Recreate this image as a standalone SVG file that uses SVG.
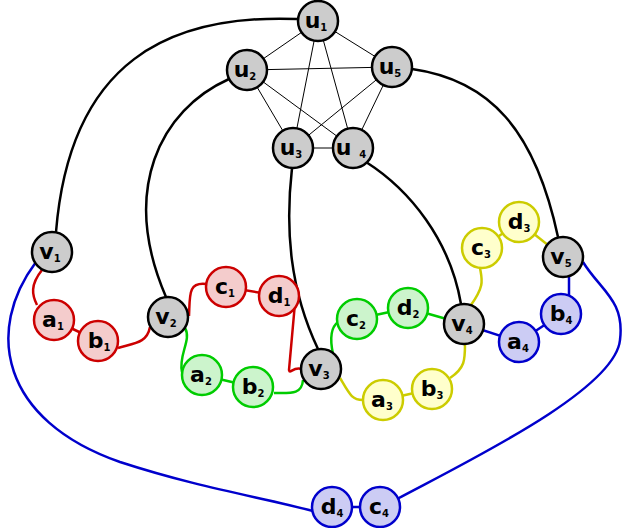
<svg xmlns="http://www.w3.org/2000/svg" width="623" height="528" viewBox="0 0 623 528">
<style>
.n circle{stroke-width:2.5}
.g circle{fill:#cccccc;stroke:#000}
.r circle{fill:#f4cccc;stroke:#cc0000}
.gr circle{fill:#ccf4cc;stroke:#00cc00}
.y circle{fill:#ffffcc;stroke:#cccc00}
.b circle{fill:#ccccf4;stroke:#0000cc}
text{font-family:"DejaVu Sans",sans-serif;font-weight:bold;font-size:22px;text-anchor:middle;fill:#000}
tspan{font-size:10px}
.k{fill:none;stroke:#000;stroke-width:2.5}
.t{fill:none;stroke:#000;stroke-width:1}
.cr{fill:none;stroke:#cc0000;stroke-width:2.5}
.cg{fill:none;stroke:#00cc00;stroke-width:2.5}
.cy{fill:none;stroke:#cccc00;stroke-width:2.5}
.cb{fill:none;stroke:#0000cc;stroke-width:2.5}
</style>
<g id="connectors">
<line class="t" x1="318" y1="21" x2="247" y2="70"/>
<line class="t" x1="318" y1="21" x2="392" y2="67"/>
<line class="t" x1="318" y1="21" x2="293" y2="148"/>
<line class="t" x1="318" y1="21" x2="353" y2="148"/>
<line class="t" x1="247" y1="70" x2="392" y2="67"/>
<line class="t" x1="247" y1="70" x2="293" y2="148"/>
<line class="t" x1="247" y1="70" x2="353" y2="148"/>
<line class="t" x1="392" y1="67" x2="293" y2="148"/>
<line class="t" x1="392" y1="67" x2="353" y2="148"/>
<line class="t" x1="293" y1="148" x2="353" y2="148"/>
<path class="k" d="M297,19 C170,14 70,60 56,232"/>
<path class="k" d="M229,79 C160,110 120,190 166,297"/>
<path class="k" d="M292,168 C285,230 290,290 318,349"/>
<path class="k" d="M366,162 C410,190 450,240 461,304"/>
<path class="k" d="M412,69 C490,80 535,130 558,237"/>
<path class="cr" d="M42,270 C30,285 32,295 37,305"/>
<line class="cr" x1="54" y1="320" x2="98" y2="341"/>
<path class="cr" d="M118,348 C135,343 147,343 150,327"/>
<path class="cr" d="M189,316 C190,295 188,282 206,284"/>
<line class="cr" x1="226" y1="287" x2="279" y2="296"/>
<path class="cr" d="M295,303 L289,370 C290,375 293,366 302,369"/>
<path class="cg" d="M185,328 C192,340 178,355 182,372"/>
<line class="cg" x1="202" y1="375" x2="253" y2="387"/>
<path class="cg" d="M274,393 C290,393 302,395 303,380"/>
<path class="cg" d="M333,354 C330,340 330,328 338,322"/>
<line class="cg" x1="357" y1="319" x2="408" y2="308"/>
<line class="cg" x1="408" y1="308" x2="464" y2="324"/>
<path class="cy" d="M340,378 C350,395 352,400 363,400"/>
<line class="cy" x1="383" y1="400" x2="432" y2="389"/>
<path class="cy" d="M450,378 C465,368 465,360 465,344"/>
<path class="cy" d="M471,305 C485,285 482,280 480,268"/>
<line class="cy" x1="482" y1="248" x2="519" y2="222"/>
<line class="cy" x1="519" y1="222" x2="563" y2="257"/>
<line class="cb" x1="464" y1="324" x2="519" y2="342"/>
<line class="cb" x1="519" y1="342" x2="561" y2="314"/>
<line class="cb" x1="569" y1="297" x2="569" y2="275"/>
<line class="cb" x1="332" y1="507" x2="380" y2="507"/>
<path class="cb" d="M36,262 C-15,330 0,420 120,462 C200,488 260,497 313,511"/>
<path class="cb" d="M583,262 C600,290 625,300 620,340 C615,390 470,460 397,499"/>
</g>
<g id="u1" class="n g"><circle cx="318" cy="21" r="20"/><text x="316" y="28">u<tspan dy="3">1</tspan></text></g>
<g id="u2" class="n g"><circle cx="247" cy="70" r="20"/><text x="245" y="77">u<tspan dy="3">2</tspan></text></g>
<g id="u5" class="n g"><circle cx="392" cy="67" r="20"/><text x="390" y="74">u<tspan dy="3">5</tspan></text></g>
<g id="u3" class="n g"><circle cx="293" cy="148" r="20"/><text x="291" y="155">u<tspan dy="3">3</tspan></text></g>
<g id="u4" class="n g"><circle cx="353" cy="148" r="20"/><text x="351" y="155">u <tspan dy="3">4</tspan></text></g>
<g id="v1" class="n g"><circle cx="52" cy="252" r="20"/><text x="50" y="259">v<tspan dy="3">1</tspan></text></g>
<g id="v2" class="n g"><circle cx="168" cy="317" r="20"/><text x="166" y="324">v<tspan dy="3">2</tspan></text></g>
<g id="v3" class="n g"><circle cx="321" cy="369" r="20"/><text x="319" y="376">v<tspan dy="3">3</tspan></text></g>
<g id="v4" class="n g"><circle cx="464" cy="324" r="20"/><text x="462" y="331">v<tspan dy="3">4</tspan></text></g>
<g id="v5" class="n g"><circle cx="563" cy="257" r="20"/><text x="561" y="264">v<tspan dy="3">5</tspan></text></g>
<g id="a1" class="n r"><circle cx="54" cy="320" r="20"/><text x="53" y="327">a<tspan dy="3">1</tspan></text></g>
<g id="b1" class="n r"><circle cx="98" cy="341" r="20"/><text x="99" y="348">b<tspan dy="3">1</tspan></text></g>
<g id="c1" class="n r"><circle cx="226" cy="287" r="20"/><text x="225" y="294">c<tspan dy="3">1</tspan></text></g>
<g id="d1" class="n r"><circle cx="279" cy="296" r="20"/><text x="279" y="303">d<tspan dy="3">1</tspan></text></g>
<g id="a2" class="n gr"><circle cx="202" cy="375" r="20"/><text x="201" y="382">a<tspan dy="3">2</tspan></text></g>
<g id="b2" class="n gr"><circle cx="253" cy="387" r="20"/><text x="253" y="394">b<tspan dy="3">2</tspan></text></g>
<g id="c2" class="n gr"><circle cx="357" cy="319" r="20"/><text x="356" y="326">c<tspan dy="3">2</tspan></text></g>
<g id="d2" class="n gr"><circle cx="408" cy="308" r="20"/><text x="408" y="315">d<tspan dy="3">2</tspan></text></g>
<g id="a3" class="n y"><circle cx="383" cy="400" r="20"/><text x="382" y="407">a<tspan dy="3">3</tspan></text></g>
<g id="b3" class="n y"><circle cx="432" cy="389" r="20"/><text x="432" y="396">b<tspan dy="3">3</tspan></text></g>
<g id="c3" class="n y"><circle cx="482" cy="248" r="20"/><text x="481" y="255">c<tspan dy="3">3</tspan></text></g>
<g id="d3" class="n y"><circle cx="519" cy="222" r="20"/><text x="519" y="229">d<tspan dy="3">3</tspan></text></g>
<g id="a4" class="n b"><circle cx="519" cy="342" r="20"/><text x="518" y="349">a<tspan dy="3">4</tspan></text></g>
<g id="b4" class="n b"><circle cx="561" cy="314" r="20"/><text x="561" y="321">b<tspan dy="3">4</tspan></text></g>
<g id="c4" class="n b"><circle cx="380" cy="507" r="20"/><text x="379" y="514">c<tspan dy="3">4</tspan></text></g>
<g id="d4" class="n b"><circle cx="332" cy="507" r="20"/><text x="332" y="514">d<tspan dy="3">4</tspan></text></g>
</svg>
